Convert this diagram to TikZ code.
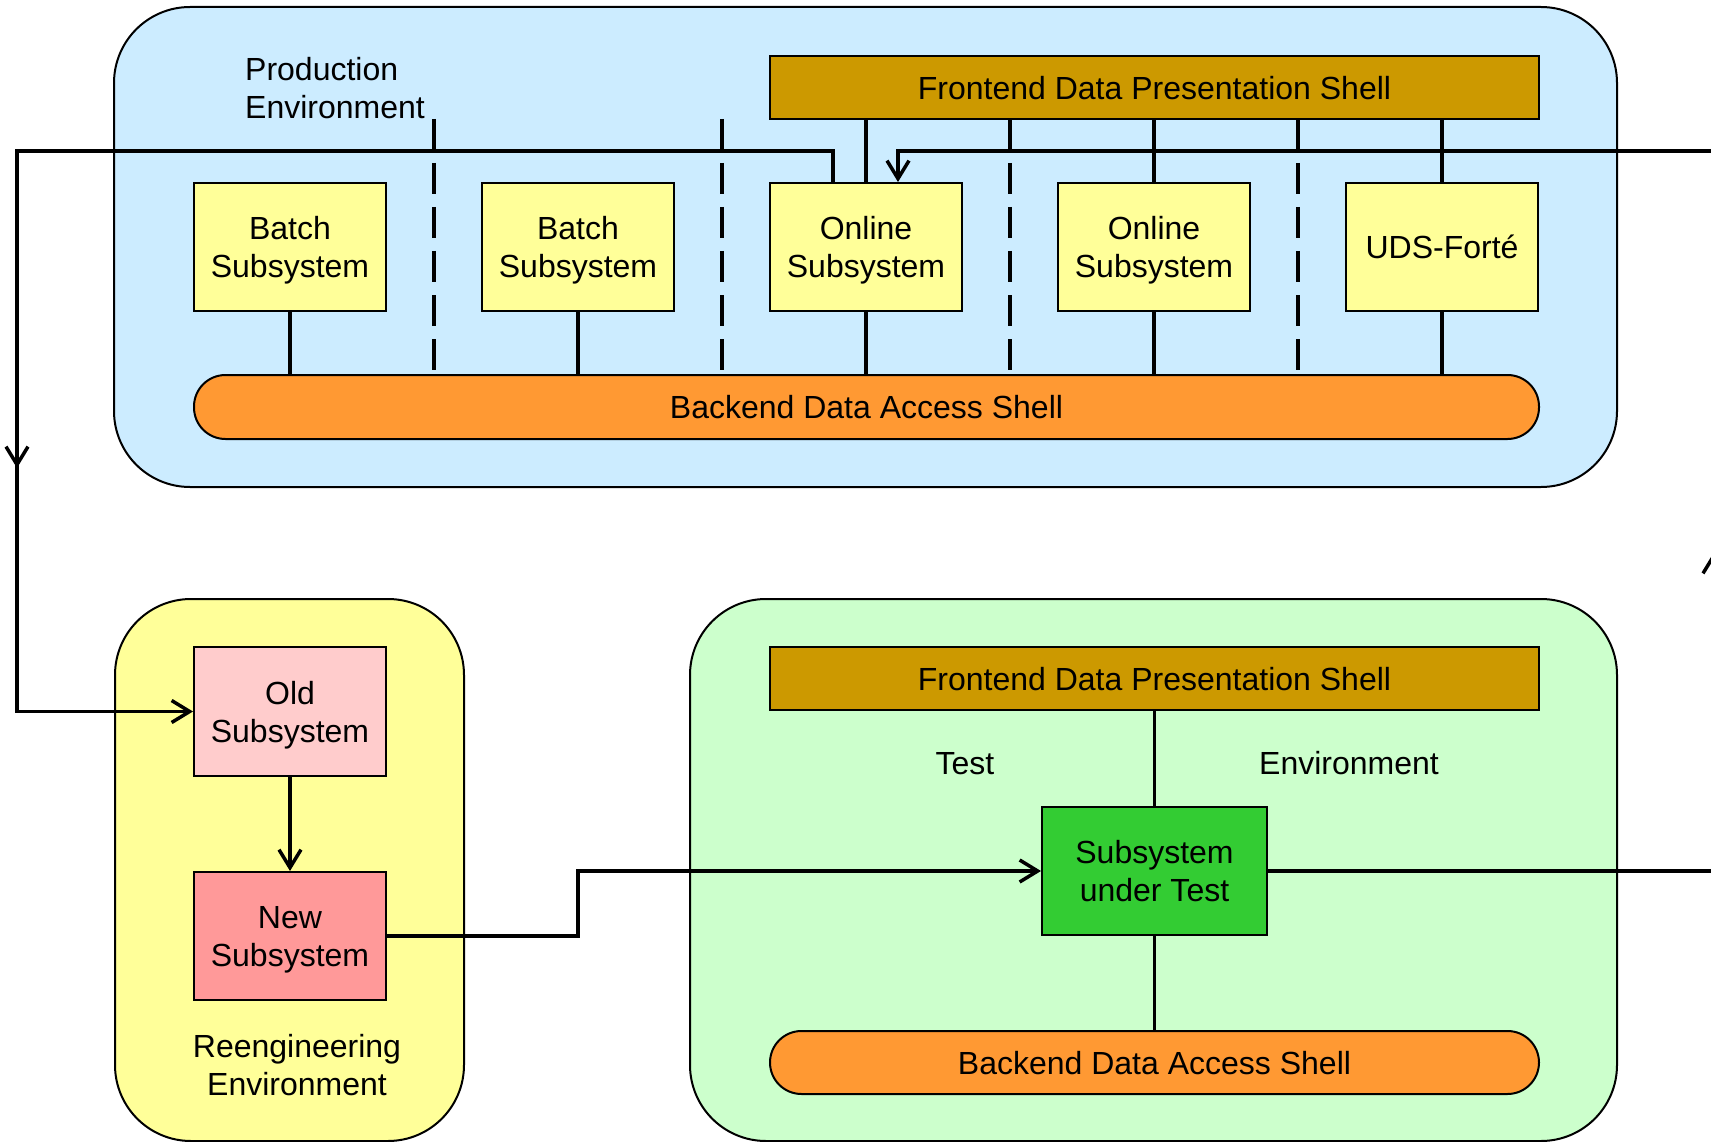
\documentclass[tikz,border=0pt]{standalone}
\usepackage{fontspec}
\setmainfont{Liberation Sans}
\usetikzlibrary{arrows.meta}
\definecolor{envblue}{HTML}{CCECFF}
\definecolor{envyellow}{HTML}{FFFF99}
\definecolor{envgreen}{HTML}{CCFFCC}
\definecolor{frontc}{HTML}{CC9900}
\definecolor{backc}{HTML}{FF9933}
\definecolor{subc}{HTML}{FFFF99}
\definecolor{oldc}{HTML}{FFCCCC}
\definecolor{newc}{HTML}{FF9999}
\definecolor{sutc}{HTML}{33CC33}
\tikzset{
  txt/.style={font=\fontsize{32}{38}\selectfont, align=center, inner sep=0pt, text depth=0pt},
  env/.style={draw=black, line width=2pt, rounded corners=76pt},
  sbox/.style={txt, draw=black, line width=2pt, minimum width=192pt, minimum height=128pt},
  bar/.style={txt, draw=black, line width=2pt, minimum width=769pt, minimum height=63pt},
  pill/.style={bar, rounded corners=31.5pt, fill=backc},
  conn/.style={line width=3.5pt},
  arr/.style={-{Straight Barb[length=18pt,width=22pt,line width=3.5pt]}},
  dsh/.style={line width=3.5pt, dash pattern=on 31pt off 13pt}
}
\begin{document}
\begin{tikzpicture}[x=1pt,y=-1pt]
\useasboundingbox (0,0) rectangle (1711,1142);
% environments
\draw[env, fill=envblue] (114,7) rectangle (1617,487);
\draw[env, fill=envyellow] (115,599) rectangle (464,1141);
\draw[env, fill=envgreen] (690,599) rectangle (1617,1141);
% production environment
\node[bar, fill=frontc] (front) at (1154.5,88) {Frontend Data Presentation Shell};
\node[pill, minimum width=1345pt, minimum height=64pt] (back) at (866.5,407) {Backend Data Access Shell};
\node[sbox, fill=subc] (b1) at (290,247) {Batch\\Subsystem};
\node[sbox, fill=subc] (b2) at (578,247) {Batch\\Subsystem};
\node[sbox, fill=subc] (on1) at (866,247) {Online\\Subsystem};
\node[sbox, fill=subc] (on2) at (1154,247) {Online\\Subsystem};
\node[sbox, fill=subc] (uds) at (1442,247) {UDS-Fort\'e};
\node[txt, align=left, anchor=base west] (prodlbl) at (245,119) {Production\\Environment};
% dashed separators
\foreach \x in {434,722,1010,1298}
  \draw[dsh] (\x,119) -- (\x,371);
% connectors in production
\foreach \n in {b1,b2,on1,on2,uds}
  \draw[conn] (\n.south) -- (\n.south |- back.north);
\foreach \n in {on1,on2,uds}
  \draw[conn] (\n.north |- front.south) -- (\n.north);
% reengineering environment
\node[sbox, fill=oldc, minimum height=129pt] (old) at (290,711.5) {Old\\Subsystem};
\node[sbox, fill=newc] (new) at (290,936) {New\\Subsystem};
\node[txt] (reenglbl) at (297,1064.5) {Reengineering\\Environment};
% test environment
\node[bar, fill=frontc] (front2) at (1154.5,678.5) {Frontend Data Presentation Shell};
\node[pill] (back2) at (1154.5,1062.5) {Backend Data Access Shell};
\node[sbox, fill=sutc, minimum width=225pt] (sut) at (1154.5,871) {Subsystem\\under Test};
\node[txt] (testlbl) at (965,763) {Test};
\node[txt] (envlbl) at (1349,763) {Environment};
\draw[conn] (front2.south) -- (sut.north);
\draw[conn] (sut.south) -- (back2.north);
% flow connectors
\coordinate (L1) at (17,151);
\coordinate (R1) at (1714,151);
\coordinate (R2) at (1714,871);
\coordinate (S) at (578,871);
\draw[conn, arr] ([xshift=-33pt]on1.north) |- (L1) -- (old.west -| L1) -- (old.west);
\draw[conn, arr] (17,420) -- (17,468);
\draw[conn, arr] (old.south) -- (new.north);
\draw[conn, arr] (new.east) -| (S) -- (sut.west);
\draw[conn, arr] (sut.east) -- (R2) -- (R1) -| ([xshift=32pt]on1.north);
\draw[conn, arr] (1714,600) -- (1714,552);
\end{tikzpicture}
\end{document}
